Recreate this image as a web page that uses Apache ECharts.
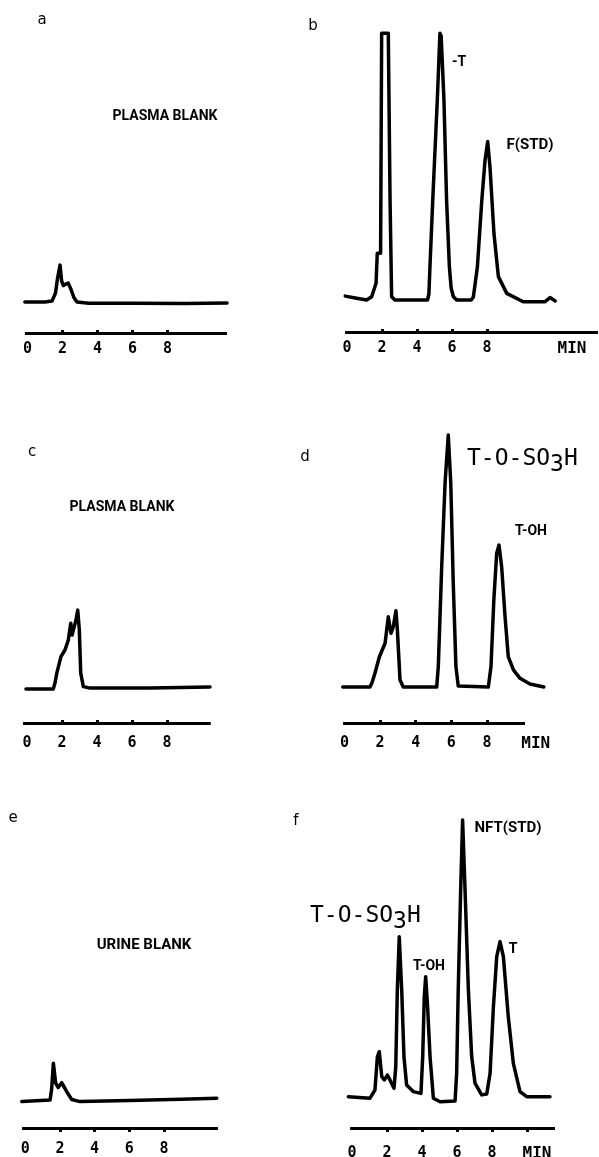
<!DOCTYPE html>
<html><head><meta charset="utf-8">
<script src="https://cdn.jsdelivr.net/npm/echarts@6/dist/echarts.min.js"></script>
<style>html,body{margin:0;padding:0;background:#fff}#chart{width:599px;height:1157px}</style>
</head><body><div id="chart"></div>
<script>
// ---------------- DATA (time in min, detector response in relative units above baseline) ----------------
const tickValues = [0, 2, 4, 6, 8];
const tickLabels = ['0', '2', '4', '6', '8'];
const axisUnit = 'MIN';
const panelIds = ['a', 'b', 'c', 'd', 'e', 'f'];

const traceA = [[-0.15,0],[1.0,0],[1.4,0.3],[1.6,3],[1.72,8],[1.86,12.3],[1.95,7],[2.05,5.5],[2.2,6],[2.33,6.3],[2.5,4],[2.65,1.5],[2.83,0],[3.5,-0.4],[6,-0.4],[9,-0.5],[11.4,-0.3]];
const traceB = [[-0.1,1.3],[0.55,0.6],[1.12,0],[1.41,1.1],[1.66,5.6],[1.73,15.6],[1.92,15.6],[1.98,88.9],[2.36,88.9],[2.46,33.3],[2.55,1.1],[2.74,0],[4.6,0],[4.68,2],[4.74,11.1],[4.9,33.3],[5.16,66.7],[5.31,88.9],[5.38,88],[5.54,66.7],[5.69,33.3],[5.85,11.1],[5.95,4],[6.08,1.1],[6.27,0],[7.1,0],[7.22,1],[7.45,11],[7.7,33],[7.89,46.7],[8.04,52.8],[8.17,44.4],[8.4,22],[8.65,7.8],[9.13,2.2],[10.07,-0.6],[11.3,-0.6],[11.6,0.8],[11.9,-0.3]];
const traceC = [[-0.06,0],[1.5,0],[1.6,2],[1.7,5.2],[1.94,10.8],[2.17,13],[2.36,16.3],[2.5,21.9],[2.58,18],[2.65,19.7],[2.8,23],[2.9,26.3],[2.99,19.7],[3.07,5.3],[3.22,0.8],[3.6,0.3],[7,0.3],[10.46,0.7]];
const traceD = [[-0.1,0],[1.43,0],[1.55,1.5],[1.71,4.6],[1.96,10.1],[2.28,14.6],[2.46,23.4],[2.61,17.9],[2.74,20.1],[2.89,25.4],[2.97,19],[3.12,2.3],[3.3,0],[5.18,0],[5.27,6.8],[5.46,40],[5.65,68],[5.83,84],[5.97,68],[6.11,34.6],[6.26,6.8],[6.39,0.3],[8.08,0],[8.23,6.8],[8.39,29],[8.55,44.6],[8.68,47.3],[8.83,40],[9.02,23.4],[9.2,10.1],[9.49,5.7],[9.86,2.9],[10.42,1],[11.2,0]];
const traceE = [[-0.2,-0.2],[1.43,0.3],[1.52,4],[1.62,12.6],[1.75,6],[1.9,4.5],[2.1,6.1],[2.39,3.1],[2.68,0.5],[3.16,-0.2],[6,0.2],[9,0.6],[11.05,0.9]];
const traceF = [[-0.21,0.1],[1.03,-0.4],[1.31,2.3],[1.45,13.4],[1.56,15.1],[1.7,6.8],[1.85,5.7],[2.02,7.3],[2.17,5.7],[2.4,2.9],[2.5,10],[2.59,35.7],[2.7,53.4],[2.84,35.7],[2.97,13.4],[3.12,4],[3.5,1.8],[3.94,1.2],[4.04,13.4],[4.13,33.4],[4.21,40.1],[4.32,30],[4.46,13.4],[4.65,-0.4],[5.03,-1.6],[5.89,-1.3],[5.98,7.9],[6.07,35.7],[6.21,69],[6.32,92.3],[6.46,69],[6.65,35.7],[6.84,13.4],[7.03,4.6],[7.41,0.7],[7.7,1],[7.89,7.9],[8.08,30],[8.27,46.8],[8.46,51.8],[8.65,46.8],[8.93,26.8],[9.22,11.2],[9.6,1.8],[9.98,0.1],[11.31,0.1]];
const traces = [traceA, traceB, traceC, traceD, traceE, traceF];

// ---------------- LAYOUT ----------------
const Y_MAX = 100, Y_PX = 3;
// axisMin/axisMax: drawn time axis; gridMin/gridMax: plotting range (trace may run past the drawn axis)
const layout = [
  {zeroX:27.5, ppm:17.5, axisMin:-0.15, axisMax:11.4,  gridMin:-0.15, gridMax:11.4,  axisY:333,  baseOff:31, ticks:[2,4,6,8],    tickInside:true,  margin:8.5,  unit:null},
  {zeroX:347,  ppm:17.5, axisMin:-0.11, axisMax:14.34, gridMin:-0.11, gridMax:14.34, axisY:332,  baseOff:32, ticks:[2,4,6,8],    tickInside:true,  margin:8.5,  unit:-26},
  {zeroX:27,   ppm:17.5, axisMin:-0.23, axisMax:10.5,  gridMin:-0.23, gridMax:10.5,  axisY:723,  baseOff:34, ticks:[2,4,6,8],    tickInside:true,  margin:12.5, unit:null},
  {zeroX:344.5,ppm:17.8, axisMin:-0.08, axisMax:10.14, gridMin:-0.1,  gridMax:11.25, axisY:723,  baseOff:36, ticks:[2,4,6,8],    tickInside:true,  margin:12.5, unit:-9},
  {zeroX:25.3, ppm:17.33,axisMin:-0.19, axisMax:11.12, gridMin:-0.2,  gridMax:11.12, axisY:1128, baseOff:27, ticks:[2,4,6,8],    tickInside:false, margin:13.5, unit:null},
  {zeroX:352,  ppm:17.5, axisMin:-0.11, axisMax:11.6,  gridMin:-0.22, gridMax:11.6,  axisY:1128, baseOff:31, ticks:[2,4,6,8,10], tickInside:false, margin:17.5, unit:-18}
];

const MONO = "'DejaVu Sans Mono','Liberation Mono',monospace";
const BOLD = "Roboto,'Liberation Sans',sans-serif";
const grids = [], xAxes = [], yAxes = [], series = [];
layout.forEach((L, i) => {
  const yMin = -L.baseOff / Y_PX;
  const h = (Y_MAX - yMin) * Y_PX;
  grids.push({left: L.zeroX + L.gridMin * L.ppm, top: L.axisY - h, width: (L.gridMax - L.gridMin) * L.ppm, height: h, outerBoundsMode: 'none', containLabel: false});
  xAxes.push({
    type: 'value', gridIndex: i, min: L.gridMin, max: L.gridMax,
    splitLine: {show: false},
    axisLine: {show: false, onZero: false},
    axisTick: {show: true, customValues: L.ticks, inside: L.tickInside, length: L.tickInside ? 3 : 4, lineStyle: {color: '#000', width: 3}},
    axisLabel: {show: true, customValues: tickValues, formatter: v => tickLabels[tickValues.indexOf(v)], color: '#000', fontFamily: MONO, fontWeight: 'bold', fontSize: 15, margin: L.margin},
    name: L.unit === null ? '' : axisUnit, nameLocation: 'end', nameGap: L.unit === null ? 0 : L.unit,
    nameTextStyle: {color: '#000', fontFamily: MONO, fontWeight: 'bold', fontSize: 16, align: 'center', verticalAlign: 'top', padding: [L.margin, 0, 0, 0]}
  });
  yAxes.push({type: 'value', gridIndex: i, min: yMin, max: Y_MAX, show: false});
  series.push({type: 'line', xAxisIndex: i, yAxisIndex: i, data: traces[i], showSymbol: false, symbol: 'none', clip: false, silent: true,
    lineStyle: {color: '#000', width: 3.5, cap: 'round', join: 'round'},
    markLine: {silent: true, symbol: ['none', 'none'], label: {show: false}, animation: false,
      lineStyle: {color: '#000', width: 3, type: 'solid'},
      emphasis: {disabled: true},
      data: [[{coord: [L.axisMin, yMin]}, {coord: [L.axisMax, yMin]}]]}
  });
});

function txt(t, x, y, opt) {
  return {type: 'text', x: x, y: y, silent: true, style: Object.assign({text: t, fill: '#000', align: 'center', verticalAlign: 'middle'}, opt)};
}
const letterFont = {fontFamily: "'DejaVu Sans',sans-serif", fontSize: 15};
const boldFont = {fontFamily: BOLD, fontWeight: 'bold', fontSize: 14};
const peakFont = {fontFamily: BOLD, fontWeight: 'bold', fontSize: 14};
const sulfate = (x, y) => ({type: 'text', x: x, y: y, silent: true, style: {
  text: '{m|T-O-SO}{s|3}{m|H}', align: 'left', verticalAlign: 'top',
  rich: {m: {fill: '#000', fontFamily: MONO, fontSize: 23, verticalAlign: 'top'},
         s: {fill: '#000', fontFamily: MONO, fontSize: 23, verticalAlign: 'top', padding: [6, 0, 0, 0]}}}});

const graphics = [
  txt(panelIds[0], 42, 20, letterFont), txt(panelIds[1], 313, 26, letterFont),
  txt(panelIds[2], 32, 452, letterFont), txt(panelIds[3], 305, 457, letterFont),
  txt(panelIds[4], 13, 818, letterFont), txt(panelIds[5], 296, 821, letterFont),
  txt('PLASMA BLANK', 165, 116, boldFont), txt('PLASMA BLANK', 122, 507, boldFont),
  txt('URINE BLANK', 144, 945, Object.assign({}, boldFont, {fontSize: 15})),
  txt('-T', 459, 62, peakFont), txt('F(STD)', 530, 145, Object.assign({}, peakFont, {fontSize: 15})),
  txt('T-OH', 531, 531, peakFont), txt('T-OH', 429, 966, peakFont),
  txt('NFT(STD)', 508, 828, Object.assign({}, peakFont, {fontSize: 15})), txt('T', 513, 949, peakFont),
  sulfate(467, 448), sulfate(310, 905)
];

const chart = echarts.init(document.getElementById('chart'), null, {renderer: 'canvas'});
chart.setOption({
  animation: false, backgroundColor: '#fff',
  grid: grids, xAxis: xAxes, yAxis: yAxes, series: series, graphic: graphics
});
</script></body></html>
